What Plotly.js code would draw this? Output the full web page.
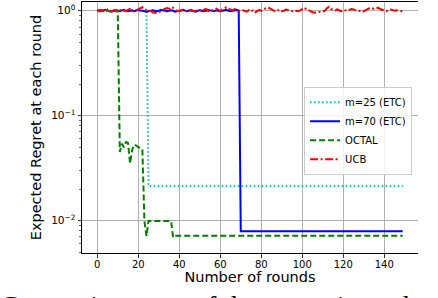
<!DOCTYPE html>
<html>
<head>
<meta charset="utf-8">
<script src="https://cdn.plot.ly/plotly-3.0.1.min.js"></script>
<style>html,body{margin:0;padding:0;background:#fff;overflow:hidden}#chart{width:438px;height:298px}</style>
</head>
<body>
<div id="chart"></div>
<script>
// ---- data ----
const seriesNames = ["m=25 (ETC)", "m=70 (ETC)", "OCTAL", "UCB"];
const nRounds = 150;
const rounds = Array.from({length: nRounds}, (_, i) => i);

// m=25 (ETC): exploration rounds then committed level
const etc25Explore = [1.00,0.99,1.01,1.00,1.02,1.00,0.99,1.00,1.01,1.00,0.98,1.00,1.01,0.99,1.00,1.02,1.00,0.99,1.01,1.00,1.00,0.99,1.01,1.00,1.00];
const etc25Commit = 0.0214;

// m=70 (ETC)
const etc70Explore = [
1.00,1.01,0.99,1.00,1.02,1.01,0.99,0.98,1.00,1.01,
1.00,0.99,1.01,1.02,1.00,0.99,1.00,1.01,0.99,1.00,
1.02,1.01,1.00,0.99,0.98,0.99,1.00,1.01,1.00,0.99,
1.00,1.02,1.01,1.00,0.99,1.00,1.01,1.00,0.98,0.99,
1.00,1.01,1.02,1.00,0.99,1.01,1.00,0.99,0.98,1.00,
1.01,1.00,0.99,1.00,1.02,1.01,1.00,0.99,1.01,1.00,
0.99,1.00,1.01,1.02,1.00,0.99,1.00,1.01,1.02,1.00];
const etc70Commit = 0.0079;

// OCTAL
const octalEarly = [0.99,1.02,1.00,0.98,1.01,1.00,0.99,1.02,1.00,0.99,1.00,
  0.045,0.054,0.050,0.056,0.055,0.035,0.047,0.053,0.052,0.050,0.049,0.048,
  0.0099,0.0071,
  0.0099,0.0099,0.0099,0.0099,0.0099,0.0099,0.0099,0.0099,0.0099,0.0099,0.0099,0.0099,
  0.0069];
const octalFinal = 0.00715;

// UCB
const ucb = [
1.01,0.99,1.02,1.00,0.98,1.03,1.01,0.99,1.00,1.02,0.98,
1.00,1.03,1.01,0.99,1.02,1.04,1.00,0.98,1.01,1.03,
1.06,1.08,1.04,1.01,0.99,1.00,0.97,0.96,0.95,0.97,
1.00,1.02,1.04,1.06,1.05,1.03,1.07,1.02,1.00,0.99,
1.01,1.03,1.00,0.98,1.01,1.02,0.99,1.00,1.03,1.01,
0.99,1.02,1.04,1.00,0.98,1.01,1.03,1.05,1.02,1.00,
1.03,1.06,1.08,1.05,1.03,1.01,1.04,1.02,1.00,0.99,
1.01,1.00,0.98,1.02,0.99,1.01,0.97,0.99,1.02,1.00,
1.03,1.05,1.08,1.06,1.03,1.00,0.98,1.01,1.02,0.99,
1.00,1.03,1.02,1.00,0.99,0.98,1.00,0.99,1.01,1.05,
1.07,1.04,1.01,0.98,0.97,0.96,0.97,0.98,0.97,0.99,
1.00,1.06,1.09,1.04,1.02,1.01,1.03,1.00,0.99,1.02,
1.01,1.00,1.02,1.04,1.03,1.00,0.99,1.00,0.98,0.99,
1.02,1.05,1.07,1.06,1.04,1.05,1.07,1.04,1.01,1.00,
0.99,1.01,1.03,1.02,1.00,1.01,1.00,0.99,1.00];

const xTickVals = [0,20,40,60,80,100,120,140];
const yTickVals = [1, 0.1, 0.01];
const yTickText = ["10<sup>0</sup>", "10<sup>\u22121</sup>", "10<sup>\u22122</sup>"];
const yMinorVals = [0.005,0.006,0.007,0.008,0.009,0.02,0.03,0.04,0.05,0.06,0.07,0.08,0.09,0.2,0.3,0.4,0.5,0.6,0.7,0.8,0.9];
const captionWords = ['Comparison', 'of the regret in each round'];

// ---- build series ----
const pad = (arr, level) => arr.concat(Array(nRounds - arr.length).fill(level));
const etc25 = pad(etc25Explore, etc25Commit);
const etc70 = pad(etc70Explore, etc70Commit);
const octal = pad(octalEarly, octalFinal);

const traces = [
  {x: rounds, y: etc25, name: seriesNames[0], mode: 'lines', line: {color: '#00bfbf', width: 2, dash: '1.5px,2.5px'}},
  {x: rounds, y: etc70, name: seriesNames[1], mode: 'lines', line: {color: '#0000ff', width: 2}},
  {x: rounds, y: octal, name: seriesNames[2], mode: 'lines', line: {color: '#008000', width: 2, dash: '6px,3px'}},
  {x: rounds, y: ucb, name: seriesNames[3], mode: 'lines', line: {color: '#ff0000', width: 2, dash: '8px,2.5px,2px,2.5px'}}
];

const font = 'DejaVu Sans, sans-serif';
const capFont = {family: 'Liberation Serif, serif', size: 28, color: '#000'};
const layout = {
  width: 438, height: 298,
  margin: {l: 82, r: 20, t: 2, b: 45, pad: 0},
  paper_bgcolor: '#fff', plot_bgcolor: '#fff',
  showlegend: true,
  font: {family: font, size: 10, color: '#000'},
  xaxis: {
    range: [-7.45, 156.45], tickmode: 'array', tickvals: xTickVals,
    showline: true, linecolor: '#000', linewidth: 1, mirror: true,
    ticks: 'outside', ticklen: 3.5, tickwidth: 0.8, tickcolor: '#000',
    showgrid: true, gridcolor: '#b0b0b0', gridwidth: 1, zeroline: false,
    tickfont: {family: font, size: 10, color: '#000'}, ticklabelstandoff: -2,
    title: {text: 'Number of rounds', font: {family: font, size: 14.5, color: '#000'}, standoff: 2}
  },
  yaxis: {
    type: 'log', range: [-2.309, 0.084], tickmode: 'array', tickvals: yTickVals, ticktext: yTickText,
    showline: true, linecolor: '#000', linewidth: 1, mirror: false,
    ticks: 'outside', ticklen: 3.5, tickwidth: 0.8, tickcolor: '#000',
    showgrid: true, gridcolor: '#b0b0b0', gridwidth: 1, zeroline: false,
    tickfont: {family: font, size: 10.5, color: '#000'},
    minor: {tickmode: 'array', tickvals: yMinorVals, ticks: 'outside', ticklen: 2, tickwidth: 0.6, tickcolor: '#000', showgrid: false},
    title: {text: 'Expected Regret at each round', font: {family: font, size: 14.5, color: '#000'}, standoff: 6}
  },
  legend: {
    x: 0.661, y: 0.662, xanchor: 'left', yanchor: 'top',
    bgcolor: 'rgba(255,255,255,0.85)', bordercolor: '#cccccc', borderwidth: 1,
    font: {family: font, size: 10, color: '#000'}, tracegroupgap: 0
  },
  annotations: [
    {xref: 'paper', yref: 'paper', x: -0.25, y: -0.141, xanchor: 'left', yanchor: 'top',
     text: captionWords[0], showarrow: false, font: capFont},
    {xref: 'paper', yref: 'paper', x: 0.324, y: -0.141, xanchor: 'left', yanchor: 'top',
     text: captionWords[1], showarrow: false, font: capFont}
  ]
};

Plotly.newPlot('chart', traces, layout, {displayModeBar: false, staticPlot: true});
</script>
</body>
</html>
